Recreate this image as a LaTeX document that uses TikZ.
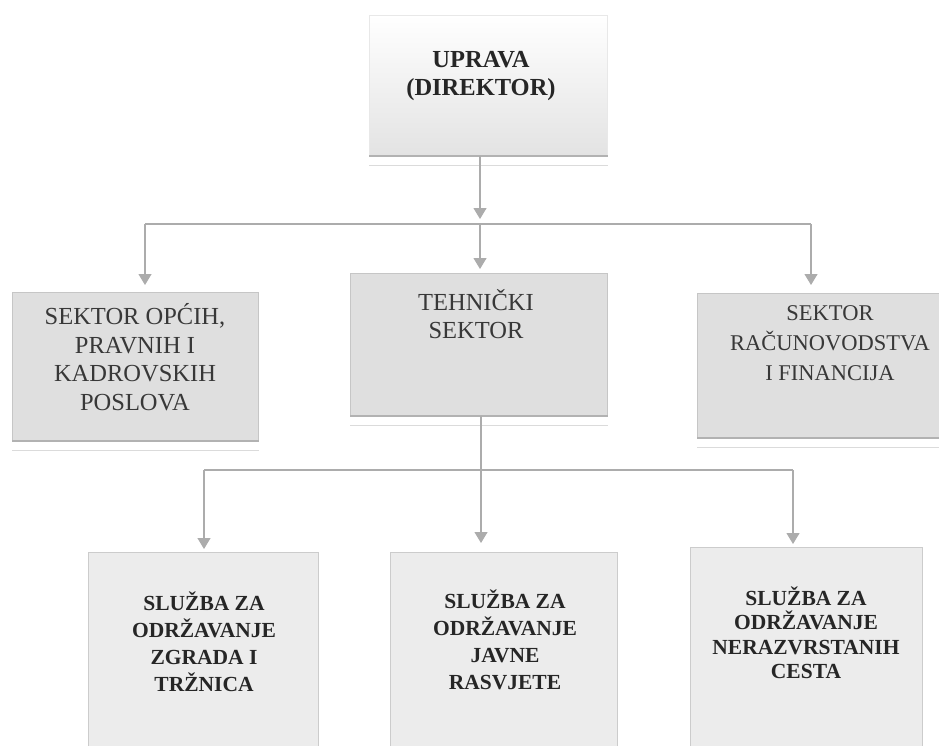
\documentclass[tikz,border=0pt]{standalone}
\usepackage{fontspec}
\setmainfont{Liberation Serif}
\usetikzlibrary{arrows.meta}
\tikzset{
  x=1pt, y=1pt,
  topbox/.style={draw=gray!18, line width=0.8pt, top color=white, bottom color=gray!22, inner sep=0pt, anchor=north west},
  midbox/.style={draw=gray!45, line width=0.8pt, fill=gray!25, inner sep=0pt, anchor=north west},
  lowbox/.style={draw=gray!40, line width=0.8pt, fill=gray!15, inner sep=0pt, anchor=north west},
  toptext/.style={align=center, text=black!85, font=\fontsize{24.5}{28}\selectfont\bfseries},
  midtext/.style={align=center, text=black!78, font=\fontsize{24.5}{28.5}\selectfont},
  midtextb/.style={align=center, text=black!78, font=\fontsize{22.5}{30}\selectfont},
  lowtext/.style={align=center, text=black!85, font=\fontsize{21.5}{27}\selectfont\bfseries},
  lowtextb/.style={align=center, text=black!85, font=\fontsize{21.5}{24.5}\selectfont\bfseries},
  bottomedge/.style={draw=gray!60, line width=2pt},
  shadowline/.style={draw=gray!28, line width=1pt},
  conn/.style={draw=gray!65, line width=1.2pt},
  arr/.style={conn, -{Triangle[width=13pt,length=11pt]}},
}
\begin{document}
\begin{tikzpicture}
\path[fill=white] (0,0) rectangle (939,-746);
\useasboundingbox (0,0) rectangle (939,-746);

% boxes
\node[topbox, minimum width=238pt, minimum height=140pt] (upr) at (369,-15) {};
\node[midbox, minimum width=246pt, minimum height=148pt] (sek1) at (12,-292) {};
\node[midbox, minimum width=257pt, minimum height=142pt] (tech) at (350,-273) {};
\node[midbox, minimum width=266pt, minimum height=144pt] (sek3) at (697,-293) {};
\node[lowbox, minimum width=230pt, minimum height=215pt] (slz1) at (88,-552) {};
\node[lowbox, minimum width=227pt, minimum height=215pt] (slz2) at (390,-552) {};
\node[lowbox, minimum width=232pt, minimum height=220pt] (slz3) at (690,-547) {};

% bottom edges and shadows
\foreach \b in {upr,sek1,tech,sek3}{
  \draw[bottomedge] (\b.south west) -- (\b.south east);
  \draw[shadowline] ([yshift=-10pt]\b.south west) -- ([yshift=-10pt]\b.south east);
}

% texts
\node[toptext] (uprt) at (481,-76) {UPRAVA\\(DIREKTOR)};
\node[midtext] (sek1t) at (135,-357) {SEKTOR OPĆIH,\\PRAVNIH I\\KADROVSKIH\\POSLOVA};
\node[midtext] (techt) at (476,-314) {TEHNIČKI\\SEKTOR};
\node[midtextb] (sek3t) at (830,-343) {SEKTOR\\RAČUNOVODSTVA\\I FINANCIJA};
\node[lowtext] (slz1t) at (204,-642) {SLUŽBA ZA\\ODRŽAVANJE\\ZGRADA I\\TRŽNICA};
\node[lowtext] (slz2t) at (505,-640) {SLUŽBA ZA\\ODRŽAVANJE\\JAVNE\\RASVJETE};
\node[lowtextb] (slz3t) at (806,-633) {SLUŽBA ZA\\ODRŽAVANJE\\NERAZVRSTANIH\\CESTA};

% junctions
\coordinate (j1) at (480,-224);
\coordinate (jl) at (145,-224);
\coordinate (jr) at (811,-224);
\coordinate (j2) at (481,-470);
\coordinate (jl2) at (204,-470);
\coordinate (jr2) at (793,-470);

% connectors level 1 -> 2
\draw[arr, shorten >=5pt] (j1 |- upr.south) -- (j1);
\draw[conn] (jl) -- (jr);
\draw[arr, shorten >=7pt] (jl) -- (jl |- sek1.north);
\draw[arr, shorten >=4pt] (j1) -- (j1 |- tech.north);
\draw[arr, shorten >=8pt] (jr) -- (jr |- sek3.north);

% connectors level 2 -> 3
\draw[arr, shorten >=9pt] (j2 |- tech.south) -- (j2 |- slz2.north);
\draw[conn] (jl2) -- (jr2);
\draw[arr, shorten >=3pt] (jl2) -- (jl2 |- slz1.north);
\draw[arr, shorten >=3pt] (jr2) -- (jr2 |- slz3.north);
\end{tikzpicture}
\end{document}
